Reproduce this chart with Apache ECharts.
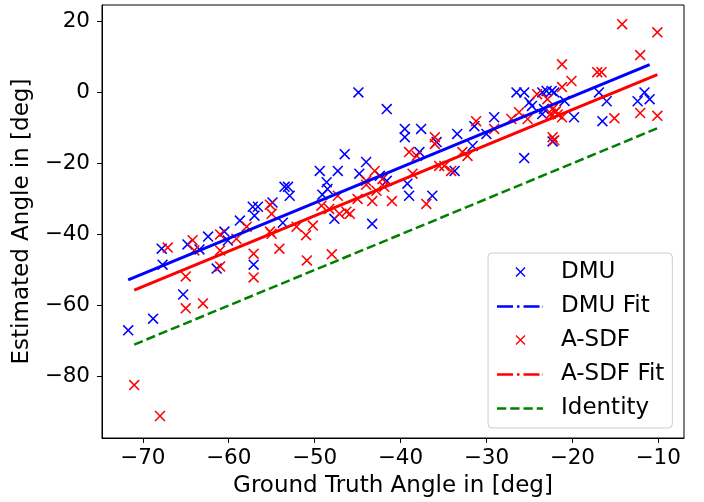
<!DOCTYPE html>
<html><head><meta charset="utf-8">
<script src="https://cdn.jsdelivr.net/npm/echarts@6/dist/echarts.min.js"></script>
<style>html,body{margin:0;padding:0;background:#fff}#c{width:704px;height:502px}</style>
</head><body><div id="c"></div>
<script>
const xTicks = [-70, -60, -50, -40, -30, -20, -10];
const yTicks = [-80, -60, -40, -20, 0, 20];
const seriesNames = ['DMU', 'DMU Fit', 'A-SDF', 'A-SDF Fit', 'Identity'];
const xAxisTitle = 'Ground Truth Angle in [deg]';
const yAxisTitle = 'Estimated Angle in [deg]';

const dmuPoints = [
  [-71.7,-67.0],[-68.8,-63.7],[-67.7,-48.5],[-67.8,-44.0],[-65.3,-56.9],[-64.8,-42.8],
  [-63.4,-44.2],[-62.4,-40.6],[-61.4,-49.6],[-60.5,-39.2],[-60.1,-41.7],[-57.1,-48.5],
  [-58.7,-36.1],[-57.2,-32.2],[-56.6,-32.2],[-57.0,-34.7],[-54.9,-31.0],[-53.7,-36.7],
  [-53.5,-26.6],[-53.1,-26.6],[-52.9,-29.1],[-49.4,-22.1],[-47.3,-22.1],[-46.5,-17.4],
  [-48.6,-25.3],[-48.5,-27.2],[-49.1,-28.8],[-47.7,-35.6],[-44.0,-19.6],[-44.8,-22.9],
  [-43.3,-37.0],[-42.4,-23.5],[-41.6,-24.9],[-39.5,-10.3],[-39.5,-12.6],[-37.6,-10.3],
  [-39.0,-29.1],[-36.3,-29.1],[-37.8,-16.8],[-35.8,-14.0],[-39.2,-25.7],[-44.9,0.0],
  [-41.6,-4.7],[-33.4,-11.7],[-31.4,-9.5],[-29.1,-7.0],[-31.6,-15.1],[-33.7,-22.1],
  [-30.0,-11.7],[-26.5,0.0],[-25.6,0.0],[-23.0,0.4],[-22.4,0.4],[-22.1,0.0],[-23.5,0.0],
  [-25.0,-2.8],[-24.7,-3.8],[-23.3,-4.7],[-20.9,-2.4],[-19.8,-7.0],[-16.5,-8.1],
  [-16.9,0.0],[-16.0,-2.5],[-25.6,-18.5],[-22.3,-13.8],[-12.4,-2.5],[-11.6,0.0],
  [-11.0,-1.9],[-23.5,-6.1]
];
const asdfPoints = [
  [-71.0,-82.4],[-68.0,-91.1],[-67.1,-43.7],[-64.2,-41.6],[-64.0,-44.5],[-65.0,-51.8],
  [-65.0,-60.8],[-63.0,-59.4],[-61.0,-40.0],[-61.0,-44.5],[-61.0,-49.0],[-59.1,-41.2],
  [-57.9,-37.8],[-57.1,-45.4],[-57.1,-52.1],[-55.0,-34.2],[-55.0,-39.8],[-54.1,-44.0],
  [-55.2,-31.6],[-52.1,-37.8],[-51.0,-40.2],[-50.9,-47.3],[-50.2,-37.5],[-49.2,-31.9],
  [-48.3,-32.8],[-48.0,-45.6],[-47.3,-29.1],[-47.1,-34.2],[-45.9,-34.2],[-45.0,-30.0],
  [-44.0,-24.9],[-43.0,-22.1],[-42.8,-27.7],[-42.1,-24.4],[-41.9,-26.6],[-41.0,-30.6],
  [-38.6,-22.9],[-39.0,-16.8],[-38.1,-17.9],[-37.0,-31.4],[-36.0,-12.6],[-36.0,-14.5],
  [-34.9,-20.7],[-21.2,7.9],[-17.1,5.7],[-16.6,5.7],[-20.1,3.2],[-21.2,1.5],[-24.1,-0.5],
  [-21.9,-5.3],[-21.2,-7.0],[-22.3,-12.6],[-22.1,-13.5],[-25.2,-7.5],[-26.2,-5.6],
  [-27.1,-7.5],[-29.1,-10.3],[-31.2,-8.1],[-32.8,-16.8],[-32.2,-17.9],[-34.1,-22.1],
  [-35.5,-20.7],[-14.2,19.2],[-10.1,16.9],[-12.1,10.5],[-12.1,-5.8],[-10.1,-6.6],
  [-15.1,-7.3],[-22.9,-1.9],[-22.3,-4.7],[-22.0,-5.5],[-21.7,-6.2],[-22.5,-6.0],
  [-46.3,-33.6],[-55.2,-39.2],[-43.3,-30.6],[-44.0,-26.0]
];
const dmuFit = [[-71.7,-52.8],[-11.0,7.8]];
const asdfFit = [[-71.0,-55.7],[-10.1,5.0]];
const identityLine = [[-71.0,-71.0],[-10.1,-10.1]];

const FONT = 'DejaVu Sans';
const minus = v => String(v).replace('-', '\u2212');
const xSymbol = 'path://M0,1L1,0L10,9L9,10Z M9,0L10,1L1,10L0,9Z';
const B = 'M0,0L0,0Z M59,11L59,11Z ';
const rect = (a, b) => `M${a},4.25L${b},4.25L${b},6.75L${a},6.75Z `;
const iconX = 'path://' + B + 'M18,0.5L19,-0.5L28.5,9L27.5,10Z M27.5,-0.5L28.5,0.5L19,10L18,9Z';
const iconDashDot = 'path://' + B + rect(0,16) + rect(20,22.5) + rect(26.5,42.5) + rect(45.6,46);
const iconDash = 'path://' + B + rect(0,9.25) + rect(13.25,22.5) + rect(26.5,35.75) + rect(39.75,46);

const BLUE = '#0000ff', RED = '#ff0000', GREEN = '#008000';

const chart = echarts.init(document.getElementById('c'), null, {renderer: 'canvas'});
chart.setOption({
  animation: false,
  backgroundColor: '#fff',
  textStyle: {fontFamily: FONT},
  grid: {left: 102, right: 20, top: 5, bottom: 64, show: true, borderColor: '#000', borderWidth: 1,
         containLabel: false, outerBoundsMode: 'none'},
  xAxis: {
    type: 'value', min: -74.75, max: -7.0,
    name: xAxisTitle, nameLocation: 'middle', nameGap: 37,
    nameTextStyle: {fontSize: 23, color: '#000', fontFamily: FONT},
    axisLine: {show: true, onZero: false, lineStyle: {color: '#000', width: 1}},
    axisTick: {show: true, inside: false, length: 5, lineStyle: {color: '#000', width: 1}, customValues: xTicks},
    axisLabel: {show: true, margin: 9, fontSize: 21.5, color: '#000', fontFamily: FONT,
                customValues: xTicks, formatter: v => minus(v)},
    splitLine: {show: false}
  },
  yAxis: {
    type: 'value', min: -97.3, max: 24.6,
    name: yAxisTitle, nameLocation: 'middle', nameGap: 65,
    nameTextStyle: {fontSize: 23, color: '#000', fontFamily: FONT},
    axisLine: {show: true, onZero: false, lineStyle: {color: '#000', width: 1}},
    axisTick: {show: true, inside: false, length: 5, lineStyle: {color: '#000', width: 1}, customValues: yTicks},
    axisLabel: {show: true, margin: 12, fontSize: 21.5, color: '#000', fontFamily: FONT,
                customValues: yTicks, formatter: v => minus(v)},
    splitLine: {show: false}
  },
  legend: {
    orient: 'vertical', left: 488, top: 253,
    padding: [8, 8, 8, 9],
    itemWidth: 59, itemHeight: 11, itemGap: 11,
    backgroundColor: 'rgba(255,255,255,0.8)', borderColor: '#cccccc', borderWidth: 1, borderRadius: 4,
    textStyle: {fontSize: 23, lineHeight: 23, color: '#000', fontFamily: FONT},
    selectedMode: false,
    data: [
      {name: seriesNames[0], icon: iconX, itemStyle: {color: BLUE, opacity: 1}},
      {name: seriesNames[1], icon: iconDashDot, itemStyle: {color: BLUE, opacity: 1}},
      {name: seriesNames[2], icon: iconX, itemStyle: {color: RED, opacity: 1}},
      {name: seriesNames[3], icon: iconDashDot, itemStyle: {color: RED, opacity: 1}},
      {name: seriesNames[4], icon: iconDash, itemStyle: {color: GREEN, opacity: 1}}
    ]
  },
  series: [
    {name: seriesNames[0], type: 'scatter', data: dmuPoints, symbol: xSymbol, symbolSize: 11,
     itemStyle: {color: BLUE, opacity: 1}},
    {name: seriesNames[1], type: 'line', data: dmuFit, symbol: 'none', showSymbol: false,
     itemStyle: {color: BLUE}, lineStyle: {color: BLUE, width: 3}},
    {name: seriesNames[2], type: 'scatter', data: asdfPoints, symbol: xSymbol, symbolSize: 11,
     itemStyle: {color: RED, opacity: 1}},
    {name: seriesNames[3], type: 'line', data: asdfFit, symbol: 'none', showSymbol: false,
     itemStyle: {color: RED}, lineStyle: {color: RED, width: 3}},
    {name: seriesNames[4], type: 'line', data: identityLine, symbol: 'none', showSymbol: false,
     itemStyle: {color: GREEN}, lineStyle: {color: GREEN, width: 2.5, type: [9.25, 4]}}
  ]
});
</script>
</body></html>
